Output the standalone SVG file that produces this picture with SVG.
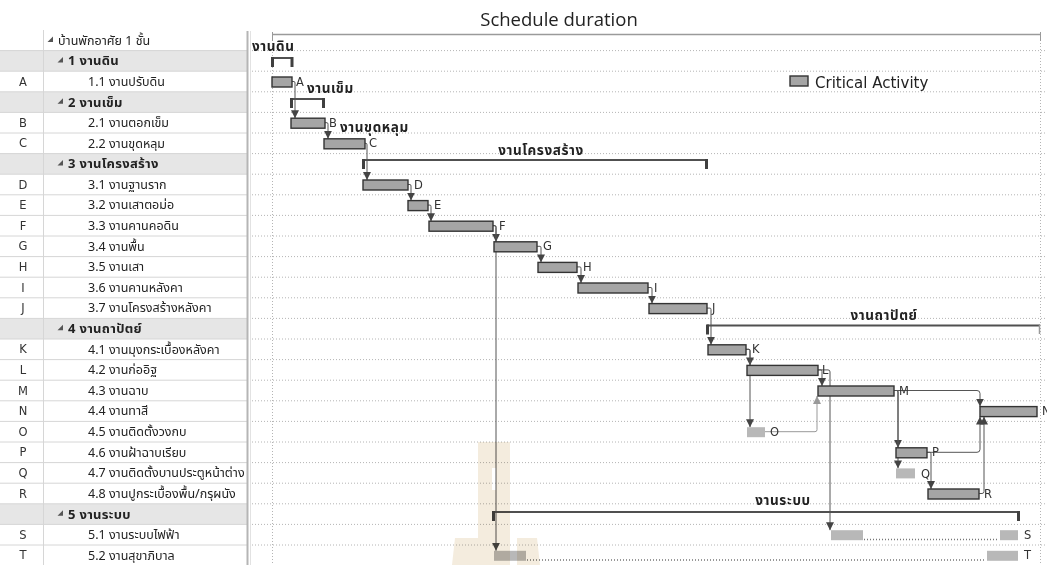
<svg xmlns="http://www.w3.org/2000/svg" width="1047" height="565" viewBox="0 0 1047 565">
  <style>
    .t { font-family: Tahoma, "Noto Sans Thai", "Noto Sans", "DejaVu Sans", sans-serif; font-size: 12.5px; fill: #222; }
    .tb { font-family: Tahoma, "Noto Sans Thai", "Noto Sans", "DejaVu Sans", sans-serif; font-size: 13px; font-weight: bold; letter-spacing: 0.3px; fill: #222; }
    .id { font-family: Tahoma, "DejaVu Sans", sans-serif; font-size: 11.5px; fill: #333; text-anchor: middle; }
    .hdr { fill: #e6e6e6; }
    .rowline { stroke: #d6d6d6; stroke-width: 1; }
    .grid { stroke: #b4b4b4; stroke-width: 1; stroke-dasharray: 1 2; fill: none; }
    .bar { fill: #a5a5a5; stroke: #333; stroke-width: 1.4; }
    .nbar { fill: #b8b8b8; }
    .lbl { font-family: "DejaVu Sans", "Noto Sans", sans-serif; font-size: 11.5px; fill: #333; }
    .sum { font-family: Tahoma, "Noto Sans Thai", "Noto Sans", sans-serif; font-size: 13.5px; font-weight: bold; letter-spacing: 0.6px; fill: #222; }
    .brk { stroke: #505050; stroke-width: 2; fill: none; }
    .tick { fill: #404040; }
    .c { stroke: #555; stroke-width: 1; fill: none; marker-end: url(#ah); }
    .cl { stroke: #999; stroke-width: 1; fill: none; marker-end: url(#ahl); }
    .slack { stroke: #777; stroke-width: 1.3; stroke-dasharray: 1 2; fill: none; }
    .caret { fill: #555; }
  </style>
  <defs>
    <marker id="ah" viewBox="0 0 8 8" refX="8" refY="4" markerWidth="8" markerHeight="8" markerUnits="userSpaceOnUse" orient="auto">
      <path d="M0,0 L8,4 L0,8 z" fill="#444"/>
    </marker>
    <marker id="ahl" viewBox="0 0 8 8" refX="8" refY="4" markerWidth="8" markerHeight="8" markerUnits="userSpaceOnUse" orient="auto">
      <path d="M0,0 L8,4 L0,8 z" fill="#999"/>
    </marker>
  </defs>

  <rect width="1047" height="565" fill="#fff"/>

  <!-- task table -->
  <g id="table">
    <rect class="hdr" x="0" y="50.6" width="247" height="20.6"/>
    <rect class="hdr" x="0" y="91.8" width="247" height="20.6"/>
    <rect class="hdr" x="0" y="153.6" width="247" height="20.6"/>
    <rect class="hdr" x="0" y="318.4" width="247" height="20.6"/>
    <rect class="hdr" x="0" y="503.8" width="247" height="20.6"/>
    <g class="rowline">
      <line x1="0" y1="50.6" x2="247" y2="50.6"/><line x1="0" y1="71.2" x2="247" y2="71.2"/>
      <line x1="0" y1="91.8" x2="247" y2="91.8"/><line x1="0" y1="112.4" x2="247" y2="112.4"/>
      <line x1="0" y1="133" x2="247" y2="133"/><line x1="0" y1="153.6" x2="247" y2="153.6"/>
      <line x1="0" y1="174.2" x2="247" y2="174.2"/><line x1="0" y1="194.8" x2="247" y2="194.8"/>
      <line x1="0" y1="215.4" x2="247" y2="215.4"/><line x1="0" y1="236" x2="247" y2="236"/>
      <line x1="0" y1="256.6" x2="247" y2="256.6"/><line x1="0" y1="277.2" x2="247" y2="277.2"/>
      <line x1="0" y1="297.8" x2="247" y2="297.8"/><line x1="0" y1="318.4" x2="247" y2="318.4"/>
      <line x1="0" y1="339" x2="247" y2="339"/><line x1="0" y1="359.6" x2="247" y2="359.6"/>
      <line x1="0" y1="380.2" x2="247" y2="380.2"/><line x1="0" y1="400.8" x2="247" y2="400.8"/>
      <line x1="0" y1="421.4" x2="247" y2="421.4"/><line x1="0" y1="442" x2="247" y2="442"/>
      <line x1="0" y1="462.6" x2="247" y2="462.6"/><line x1="0" y1="483.2" x2="247" y2="483.2"/>
      <line x1="0" y1="503.8" x2="247" y2="503.8"/><line x1="0" y1="524.4" x2="247" y2="524.4"/>
      <line x1="0" y1="545" x2="247" y2="545"/>
      <line x1="43.5" y1="30" x2="43.5" y2="565"/>
    </g>
    <line x1="247.5" y1="31" x2="247.5" y2="565" stroke="#b5b5b5" stroke-width="2"/>
    <line x1="250.5" y1="31" x2="250.5" y2="565" stroke="#e2e2e2" stroke-width="1"/>

    <polygon class="caret" points="53,36.5 53,42 47.5,42"/>
    <text class="t" x="58" y="44.7">บ้านพักอาศัย 1 ชั้น</text>

    <polygon class="caret" points="63,57 63,62.5 57.5,62.5"/>
    <text class="tb" x="68" y="65.4">1 งานดิน</text>
    <text class="id" x="23" y="85.6">A</text><text class="t" x="88" y="85.8">1.1 งานปรับดิน</text>

    <polygon class="caret" points="63,98.2 63,103.7 57.5,103.7"/>
    <text class="tb" x="68" y="106.6">2 งานเข็ม</text>
    <text class="id" x="23" y="126.8">B</text><text class="t" x="88" y="127">2.1 งานตอกเข็ม</text>
    <text class="id" x="23" y="147.4">C</text><text class="t" x="88" y="147.6">2.2 งานขุดหลุม</text>

    <polygon class="caret" points="63,160 63,165.5 57.5,165.5"/>
    <text class="tb" x="68" y="168.4">3 งานโครงสร้าง</text>
    <text class="id" x="23" y="188.6">D</text><text class="t" x="88" y="188.8">3.1 งานฐานราก</text>
    <text class="id" x="23" y="209.2">E</text><text class="t" x="88" y="209.4">3.2 งานเสาตอม่อ</text>
    <text class="id" x="23" y="229.8">F</text><text class="t" x="88" y="230">3.3 งานคานคอดิน</text>
    <text class="id" x="23" y="250.4">G</text><text class="t" x="88" y="250.6">3.4 งานพื้น</text>
    <text class="id" x="23" y="271">H</text><text class="t" x="88" y="271.2">3.5 งานเสา</text>
    <text class="id" x="23" y="291.6">I</text><text class="t" x="88" y="291.8">3.6 งานคานหลังคา</text>
    <text class="id" x="23" y="312.2">J</text><text class="t" x="88" y="312.4">3.7 งานโครงสร้างหลังคา</text>

    <polygon class="caret" points="63,324.8 63,330.3 57.5,330.3"/>
    <text class="tb" x="68" y="333.2">4 งานถาปัตย์</text>
    <text class="id" x="23" y="353.4">K</text><text class="t" x="88" y="353.6">4.1 งานมุงกระเบื้องหลังคา</text>
    <text class="id" x="23" y="374">L</text><text class="t" x="88" y="374.2">4.2 งานก่ออิฐ</text>
    <text class="id" x="23" y="394.6">M</text><text class="t" x="88" y="394.8">4.3 งานฉาบ</text>
    <text class="id" x="23" y="415.2">N</text><text class="t" x="88" y="415.4">4.4 งานทาสี</text>
    <text class="id" x="23" y="435.8">O</text><text class="t" x="88" y="436">4.5 งานติดตั้งวงกบ</text>
    <text class="id" x="23" y="456.4">P</text><text class="t" x="88" y="456.6">4.6 งานฝ้าฉาบเรียบ</text>
    <text class="id" x="23" y="477">Q</text><text class="t" x="88" y="477.2">4.7 งานติดตั้งบานประตูหน้าต่าง</text>
    <text class="id" x="23" y="497.6">R</text><text class="t" x="88" y="497.8">4.8 งานปูกระเบื้องพื้น/กรุผนัง</text>

    <polygon class="caret" points="63,510.2 63,515.7 57.5,515.7"/>
    <text class="tb" x="68" y="518.6">5 งานระบบ</text>
    <text class="id" x="23" y="538.8">S</text><text class="t" x="88" y="539">5.1 งานระบบไฟฟ้า</text>
    <text class="id" x="23" y="559.4">T</text><text class="t" x="88" y="559.6">5.2 งานสุขาภิบาล</text>
  </g>

  <!-- chart grid -->
  <g id="grid" class="grid">
    <path d="M252,50.6H1045 M252,71.2H1045 M252,91.8H1045 M252,112.4H1045 M252,133H1045 M252,153.6H1045 M252,174.2H1045 M252,194.8H1045 M252,215.4H1045 M252,236H1045 M252,256.6H1045 M252,277.2H1045 M252,297.8H1045 M252,318.4H1045 M252,339H1045 M252,359.6H1045 M252,380.2H1045 M252,400.8H1045 M252,421.4H1045 M252,442H1045 M252,462.6H1045 M252,483.2H1045 M252,503.8H1045 M252,524.4H1045 M252,545H1045"/>
    <path d="M272.5,40V565 M1040.5,40V565"/>
  </g>

  <text x="559" y="26" text-anchor="middle" font-family="'Open Sans', 'Noto Sans', sans-serif" font-size="18.5" fill="#222">Schedule duration</text>

  <!-- project summary -->
  <g id="project">
    <line x1="272" y1="34.5" x2="1040" y2="34.5" stroke="#9a9a9a" stroke-width="1.6"/>
    <line x1="272.5" y1="32" x2="272.5" y2="41" stroke="#9a9a9a"/>
    <line x1="1040.5" y1="32" x2="1040.5" y2="41" stroke="#9a9a9a"/>
  </g>

  <!-- connectors -->
  <g id="connectors">
    <path class="c" d="M292,81.5H294Q295,81.5 295,83V118.2"/>
    <path class="c" d="M325,122.7H327Q328,122.7 328,124.2V138.8"/>
    <path class="c" d="M365,143.3H366Q367,143.3 367,144.8V180"/>
    <path class="c" d="M408,184.5H410Q411,184.5 411,186V200.6"/>
    <path class="c" d="M428,205.1H430Q431,205.1 431,206.6V221.2"/>
    <path class="c" d="M493,225.7H495Q496,225.7 496,227.2V241.8"/>
    <path class="c" d="M493,225.7H495Q496,225.7 496,227.2V550.8"/>
    <path class="c" d="M537,246.3H540Q541,246.3 541,247.8V262.4"/>
    <path class="c" d="M577,266.9H580Q581,266.9 581,268.4V283"/>
    <path class="c" d="M648,287.5H651Q652,287.5 652,289V303.6"/>
    <path class="c" d="M707,308.1H710Q711,308.1 711,309.6V344.8"/>
    <path class="c" d="M746,349.3H749Q750,349.3 750,350.8V365.4"/>
    <path class="c" d="M746,349.3H749Q750,349.3 750,350.8V427.2"/>
    <path class="c" d="M818,369.9H821Q822,369.9 822,371.4V386"/>
    <path class="c" d="M818,369.9H828Q830,369.9 830,371.9V530.2"/>
    <path class="cl" d="M765,431.7H815Q817,431.7 817,429.7V396"/>
    <path class="c" d="M894,390.5H977Q980,390.5 980,393.5V406.6"/>
    <path class="c" d="M894,390.5H897Q898,390.5 898,392V447.8"/>
    <path class="c" d="M894,390.5H897Q898,390.5 898,392V468.4"/>
    <path class="c" d="M927,452.3H977Q980,452.3 980,449.3V416.6"/>
    <path class="c" d="M927,452.3H930Q931,452.3 931,453.8V489"/>
    <path class="c" d="M979,493.5H982Q984,493.5 984,491.5V416.6"/>
  </g>

  <!-- summary brackets -->
  <g id="s1">
    <text class="sum" x="252" y="51">งานดิน</text>
    <path class="brk" d="M272,58H292"/>
    <rect class="tick" x="271" y="57" width="3" height="10"/>
    <rect class="tick" x="290.5" y="57" width="3" height="10"/>
  </g>
  <g id="s2">
    <text class="sum" x="307" y="92.5">งานเข็ม</text>
    <path class="brk" d="M291,99H324"/>
    <rect class="tick" x="290" y="98" width="3" height="10"/>
    <rect class="tick" x="322" y="98" width="3" height="10"/>
  </g>
  <g id="s3">
    <text class="sum" x="340" y="132">งานขุดหลุม</text>
    <text class="sum" x="541" y="154.5" text-anchor="middle">งานโครงสร้าง</text>
    <path class="brk" d="M363,160H707"/>
    <rect class="tick" x="362" y="159" width="3" height="10"/>
    <rect class="tick" x="705" y="159" width="3" height="10"/>
  </g>
  <g id="s4">
    <text class="sum" x="884" y="319.5" text-anchor="middle">งานถาปัตย์</text>
    <path class="brk" d="M707,325.5H1039"/>
    <rect class="tick" x="706" y="324.5" width="3" height="10"/>
    <line x1="1039.5" y1="324" x2="1039.5" y2="334" stroke="#9a9a9a" stroke-width="1.5"/>
  </g>
  <g id="s5">
    <text class="sum" x="783" y="504.5" text-anchor="middle">งานระบบ</text>
    <path class="brk" d="M493,512H1019"/>
    <rect class="tick" x="492" y="511" width="3" height="10"/>
    <rect class="tick" x="1017" y="511" width="3" height="10"/>
  </g>

  <!-- task bars -->
  <g id="A"><rect class="bar" x="272" y="77" width="20" height="10"/><text class="lbl" x="296" y="85.5">A</text></g>
  <g id="B"><rect class="bar" x="291" y="118.2" width="34" height="10"/><text class="lbl" x="329" y="126.7">B</text></g>
  <g id="C"><rect class="bar" x="324" y="138.8" width="41" height="10"/><text class="lbl" x="369" y="147.3">C</text></g>
  <g id="D"><rect class="bar" x="363" y="180" width="45" height="10"/><text class="lbl" x="414" y="188.5">D</text></g>
  <g id="E"><rect class="bar" x="408" y="200.6" width="20" height="10"/><text class="lbl" x="434" y="209.1">E</text></g>
  <g id="F"><rect class="bar" x="429" y="221.2" width="64" height="10"/><text class="lbl" x="499" y="229.7">F</text></g>
  <g id="G"><rect class="bar" x="494" y="241.8" width="43" height="10"/><text class="lbl" x="543" y="250.3">G</text></g>
  <g id="H"><rect class="bar" x="538" y="262.4" width="39" height="10"/><text class="lbl" x="583" y="270.9">H</text></g>
  <g id="I"><rect class="bar" x="578" y="283" width="70" height="10"/><text class="lbl" x="654" y="291.5">I</text></g>
  <g id="J"><rect class="bar" x="649" y="303.6" width="58" height="10"/><text class="lbl" x="712" y="312.1">J</text></g>
  <g id="K"><rect class="bar" x="708" y="344.8" width="38" height="10"/><text class="lbl" x="752" y="353.3">K</text></g>
  <g id="L"><rect class="bar" x="747" y="365.4" width="71" height="10"/><text class="lbl" x="822" y="373.9">L</text></g>
  <g id="M"><rect class="bar" x="818" y="386" width="76" height="10"/><text class="lbl" x="899" y="394.5">M</text></g>
  <g id="N"><rect class="bar" x="980" y="406.6" width="57" height="10"/><text class="lbl" x="1042" y="415.1">N</text></g>
  <g id="O"><rect class="nbar" x="747" y="427.2" width="18" height="10"/><text class="lbl" x="770" y="435.7">O</text></g>
  <g id="P"><rect class="bar" x="896" y="447.8" width="31" height="10"/><text class="lbl" x="932" y="456.3">P</text></g>
  <g id="Q"><rect class="nbar" x="896" y="468.4" width="19" height="10"/><text class="lbl" x="921" y="478">Q</text></g>
  <g id="R"><rect class="bar" x="928" y="489" width="51" height="10"/><text class="lbl" x="984" y="497.5">R</text></g>
  <g id="S">
    <rect class="nbar" x="831" y="530.2" width="32" height="10"/>
    <path class="slack" d="M864,539.5H999"/>
    <rect class="nbar" x="1000" y="530.2" width="18" height="10"/>
    <text class="lbl" x="1024" y="538.7">S</text>
  </g>
  <g id="T">
    <rect class="nbar" x="494" y="550.8" width="32" height="10"/>
    <path class="slack" d="M527,560H986"/>
    <rect class="nbar" x="987" y="550.8" width="31" height="10"/>
    <text class="lbl" x="1024" y="559.3">T</text>
  </g>

  <!-- legend -->
  <g id="legend">
    <rect class="bar" x="790" y="76" width="18" height="10"/>
    <text x="815" y="87.5" font-family="'DejaVu Sans', sans-serif" font-size="15" fill="#222">Critical Activity</text>
  </g>

  <!-- faint emblem in the background -->
  <g id="emblem" fill="#f4ecde" style="mix-blend-mode:multiply">
    <path d="M478,442H510V565H478Z M492,468V490H496V468Z" fill-rule="evenodd"/>
    <path d="M455,538H478V565H452Z"/>
    <path d="M517,538H537L540,565H517Z"/>
  </g>
</svg>
